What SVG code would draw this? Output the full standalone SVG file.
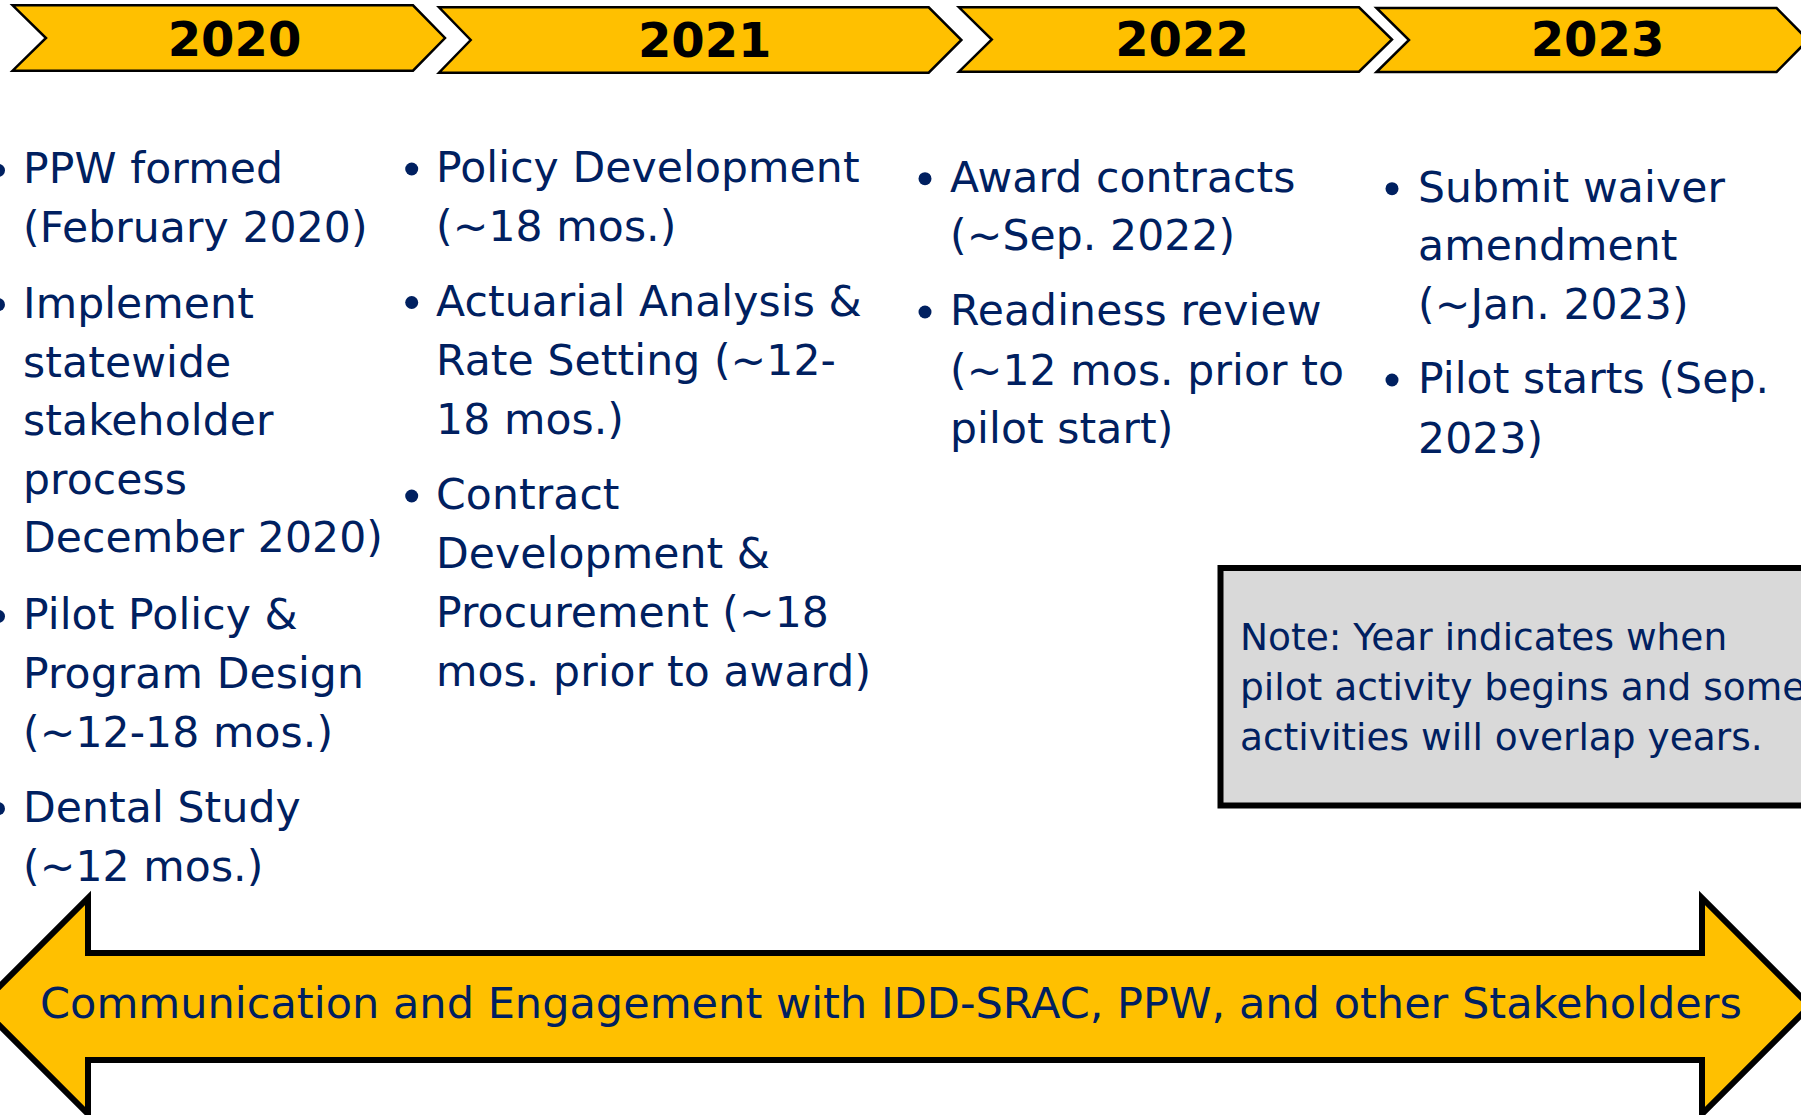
<svg xmlns="http://www.w3.org/2000/svg" width="1801" height="1115" viewBox="0 0 1801 1115">
<style>
.chev{fill:#FFC000;stroke:#000;stroke-width:2.5;stroke-linejoin:miter}
.year{font-family:"DejaVu Sans","Verdana",sans-serif;font-weight:bold;font-size:48px;fill:#000;text-anchor:middle}
.body{font-family:"DejaVu Sans","Verdana",sans-serif;font-size:42.5px;letter-spacing:0.1px;fill:#002060}
.note{font-family:"DejaVu Sans","Verdana",sans-serif;font-size:37.5px;fill:#002060}
.arrowtxt{font-family:"DejaVu Sans","Verdana",sans-serif;font-size:43px;fill:#002060}
.bul{fill:#002060}
</style>
<rect width="1801" height="1115" fill="#fff"/>
<g id="connectors"/>
<g id="year-2020">
<polygon class="chev" points="12.6,5.3 413,5.3 445,38 413,70.7 12.6,70.7 46,38"/>
<text class="year" x="234.5" y="55.5">2020</text>
</g>
<g id="year-2021">
<polygon class="chev" points="439,7.3 928.7,7.3 961.4,40 928.7,72.7 439,72.7 470.7,40"/>
<text class="year" x="704.7" y="56.7">2021</text>
</g>
<g id="year-2022">
<polygon class="chev" points="959,7.3 1359,7.3 1392,39.5 1359,71.7 959,71.7 991.8,39.5"/>
<text class="year" x="1182" y="56">2022</text>
</g>
<g id="year-2023">
<polygon class="chev" points="1376.5,8 1776.6,8 1808,40 1776.6,72 1376.5,72 1409,40"/>
<text class="year" x="1597.5" y="56">2023</text>
</g>
<g id="col-2020">
<circle class="bul" cx="-1.5" cy="170.3" r="6.5"/>
<circle class="bul" cx="-1.5" cy="304.7" r="6.5"/>
<circle class="bul" cx="-1.5" cy="616.3" r="6.5"/>
<circle class="bul" cx="-1.5" cy="808.7" r="6.5"/>
<text class="body">
<tspan x="23" y="183.3">PPW formed</tspan>
<tspan x="23" y="242">(February 2020)</tspan>
<tspan x="23" y="317.7">Implement</tspan>
<tspan x="23" y="376.7">statewide</tspan>
<tspan x="23" y="435">stakeholder</tspan>
<tspan x="23" y="493.5">process</tspan>
<tspan x="23" y="552">December 2020)</tspan>
<tspan x="23" y="629.3">Pilot Policy &amp;</tspan>
<tspan x="23" y="688.3">Program Design</tspan>
<tspan x="23" y="746.7">(~12-18 mos.)</tspan>
<tspan x="23" y="821.7">Dental Study</tspan>
<tspan x="23" y="880.7">(~12 mos.)</tspan>
</text>
</g>
<g id="col-2021">
<circle class="bul" cx="411.7" cy="169" r="6.5"/>
<circle class="bul" cx="411.7" cy="302.5" r="6.5"/>
<circle class="bul" cx="411.7" cy="496" r="6.5"/>
<text class="body">
<tspan x="436" y="181.7">Policy Development</tspan>
<tspan x="436" y="240.5">(~18 mos.)</tspan>
<tspan x="436" y="315.5">Actuarial Analysis &amp;</tspan>
<tspan x="436" y="374.5">Rate Setting (~12-</tspan>
<tspan x="436" y="433.5">18 mos.)</tspan>
<tspan x="436" y="509">Contract</tspan>
<tspan x="436" y="568">Development &amp;</tspan>
<tspan x="436" y="627">Procurement (~18</tspan>
<tspan x="436" y="686">mos. prior to award)</tspan>
</text>
</g>
<g id="col-2022">
<circle class="bul" cx="925" cy="178.7" r="6.5"/>
<circle class="bul" cx="925" cy="312" r="6.5"/>
<text class="body">
<tspan x="950" y="191.7">Award contracts</tspan>
<tspan x="950" y="250">(~Sep. 2022)</tspan>
<tspan x="950" y="325">Readiness review</tspan>
<tspan x="950" y="385">(~12 mos. prior to</tspan>
<tspan x="950" y="443">pilot start)</tspan>
</text>
</g>
<g id="col-2023">
<circle class="bul" cx="1392" cy="188.7" r="6.5"/>
<circle class="bul" cx="1392" cy="380" r="6.5"/>
<text class="body">
<tspan x="1418" y="201.7">Submit waiver</tspan>
<tspan x="1418" y="260">amendment</tspan>
<tspan x="1418" y="318.5">(~Jan. 2023)</tspan>
<tspan x="1418" y="393">Pilot starts (Sep.</tspan>
<tspan x="1418" y="453">2023)</tspan>
</text>
</g>
<g id="note">
<rect x="1220.5" y="568" width="600" height="237.5" fill="#D9D9D9" stroke="#000" stroke-width="6"/>
<text class="note">
<tspan x="1240" y="650">Note: Year indicates when</tspan>
<tspan x="1240" y="700">pilot activity begins and some</tspan>
<tspan x="1240" y="750">activities will overlap years.</tspan>
</text>
</g>
<g id="engagement-arrow">
<polygon points="-20,1006 88,898 88,953 1702,953 1702,898 1810,1006 1702,1114 1702,1060 88,1060 88,1114" fill="#FFC000" stroke="#000" stroke-width="6" stroke-linejoin="miter"/>
<text class="arrowtxt" x="40" y="1018" textLength="1702" lengthAdjust="spacingAndGlyphs">Communication and Engagement with IDD-SRAC, PPW, and other Stakeholders</text>
</g>
</svg>
